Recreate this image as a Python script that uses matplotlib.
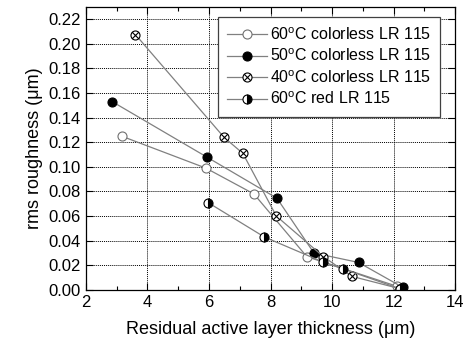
import numpy as np
import matplotlib
matplotlib.use("Agg")
import matplotlib.pyplot as plt
from matplotlib.path import Path
from matplotlib.ticker import MultipleLocator

plt.rcParams["font.family"] = ["Liberation Sans", "DejaVu Sans"]
plt.rcParams["mathtext.fontset"] = "custom"
plt.rcParams["mathtext.rm"] = "Liberation Sans"

# data
x_60c = [3.16, 5.90, 7.46, 9.18, 12.10]
y_60c = [0.125, 0.099, 0.078, 0.027, 0.003]

x_50c = [2.86, 5.93, 8.21, 9.41, 10.86, 12.30]
y_50c = [0.153, 0.108, 0.0745, 0.030, 0.0223, 0.002]

x_40c = [3.61, 6.49, 7.10, 8.19, 9.72, 10.64, 12.20]
y_40c = [0.2076, 0.124, 0.111, 0.060, 0.027, 0.011, 0.001]

x_60r = [5.97, 7.80, 9.71, 10.37, 12.20]
y_60r = [0.071, 0.043, 0.0226, 0.017, 0.001]

labels = ["60$^\\mathrm{o}$C colorless LR 115",
          "50$^\\mathrm{o}$C colorless LR 115",
          "40$^\\mathrm{o}$C colorless LR 115",
          "60$^\\mathrm{o}$C red LR 115"]

# circle with an x inside
circ = Path.unit_circle()
d = np.sqrt(0.5)
xverts = [(-d, -d), (d, d), (-d, d), (d, -d)]
xcodes = [Path.MOVETO, Path.LINETO, Path.MOVETO, Path.LINETO]
cross_circle = Path(np.concatenate([circ.vertices, xverts]),
                    np.concatenate([circ.codes, xcodes]))

fig = plt.figure(figsize=(4.64, 3.48), dpi=100)
ax = fig.add_axes([0.185, 0.167, 0.796, 0.813])

lc = "#808080"
ms = 6.5
mew = 0.8
ax.plot(x_60c, y_60c, color=lc, lw=0.9, marker="o", ms=ms, mfc="white",
        mec="#707070", mew=mew, label=labels[0])
ax.plot(x_50c, y_50c, color=lc, lw=0.9, marker="o", ms=ms, mfc="black",
        mec="black", mew=mew, label=labels[1])
ax.plot(x_40c, y_40c, color=lc, lw=0.9, marker=cross_circle, ms=ms,
        mfc="white", mec="black", mew=mew, label=labels[2])
ax.plot(x_60r, y_60r, color=lc, lw=0.9, marker="o", ms=ms, mfc="black",
        fillstyle="right", markerfacecoloralt="white", mec="black", mew=mew,
        label=labels[3])

ax.set_xlim(2, 14)
ax.set_ylim(0, 0.23)
ax.xaxis.set_major_locator(MultipleLocator(2))
ax.xaxis.set_minor_locator(MultipleLocator(1))
ax.yaxis.set_major_locator(MultipleLocator(0.02))
ax.yaxis.set_major_formatter(plt.FormatStrFormatter("%.2f"))
ax.tick_params(which="both", direction="in", top=True, right=True,
               labelsize=12, width=0.8)
ax.tick_params(which="major", length=5)
ax.tick_params(which="minor", length=3)
ax.grid(True, which="major", color="black", linestyle=(0, (1, 1)), lw=0.7)
for s in ax.spines.values():
    s.set_linewidth(0.9)

ax.set_xlabel("Residual active layer thickness (μm)", fontsize=13, labelpad=8)
ax.set_ylabel("rms roughness (μm)", fontsize=13, labelpad=4)

leg = ax.legend(loc="upper right", fontsize=11.5, fancybox=False,
                framealpha=1, edgecolor="#404040", handlelength=2.5,
                borderpad=0.6, labelspacing=0.3, handletextpad=0.15,
                borderaxespad=0, bbox_to_anchor=(0.96, 0.965))
leg.get_frame().set_linewidth(0.9)

plt.savefig("out.png", dpi=100)
